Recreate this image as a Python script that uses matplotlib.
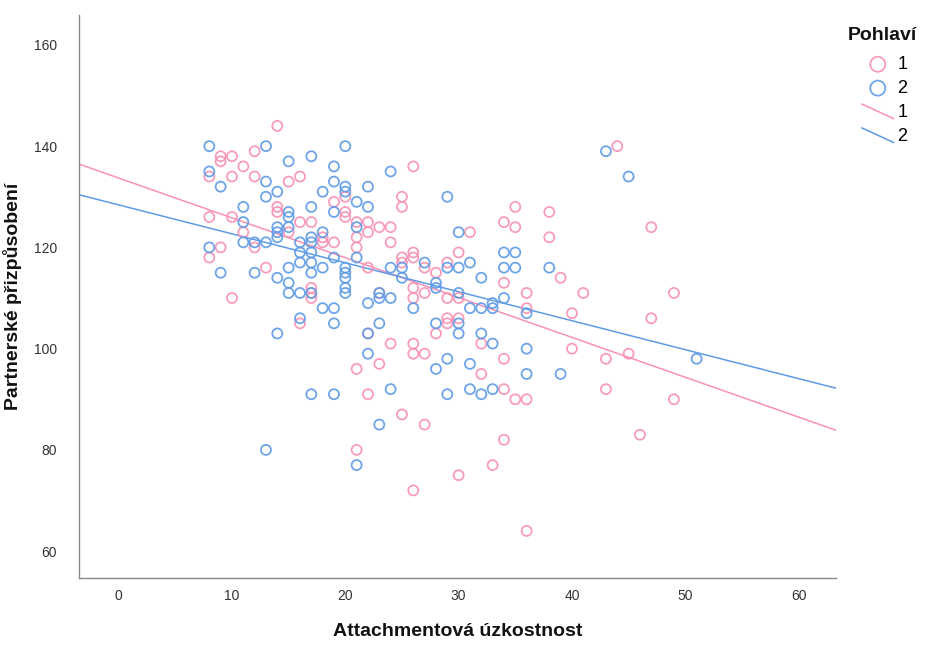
import numpy as np
import matplotlib
matplotlib.use('Agg')
import matplotlib.pyplot as plt
from matplotlib.lines import Line2D
from matplotlib.legend_handler import HandlerBase

plt.rcParams['font.family'] = ['Liberation Sans', 'DejaVu Sans']

# Pohlaví = 1
x1 = [8, 8, 8, 9, 9, 9, 10, 10, 10, 10, 11, 11, 12, 12, 12, 13, 14, 14, 14, 15, 15,
      16, 16, 16, 17, 17, 17, 17, 18, 18, 19, 19, 20, 20, 20, 21, 21, 21, 21, 21,
      22, 22, 22, 22, 22, 23, 23, 23, 24, 24, 24, 25, 25, 25, 25, 25,
      26, 26, 26, 26, 26, 26, 26, 26, 27, 27, 27, 27, 28, 28, 29, 29, 29, 29,
      30, 30, 30, 30, 31, 32, 32, 33, 34, 34, 34, 34, 34, 35, 35, 35,
      36, 36, 36, 36, 38, 38, 39, 40, 40, 41, 43, 43, 44, 45, 46, 47, 47, 49, 49]
y1 = [134, 126, 118, 138, 137, 120, 138, 134, 126, 110, 136, 123, 139, 134, 120, 116, 144, 128, 127, 133, 123,
      134, 125, 105, 125, 112, 111, 110, 122, 121, 129, 121, 130, 127, 126, 125, 122, 120, 96, 80,
      125, 123, 116, 103, 91, 124, 111, 97, 124, 121, 101, 130, 128, 118, 117, 87,
      136, 119, 118, 112, 110, 101, 99, 72, 116, 111, 99, 85, 115, 103, 117, 110, 106, 105,
      119, 110, 106, 75, 123, 101, 95, 77, 125, 113, 98, 92, 82, 128, 124, 90,
      111, 108, 90, 64, 127, 122, 114, 107, 100, 111, 98, 92, 140, 99, 83, 124, 106, 111, 90]

# Pohlaví = 2
x2 = [8, 8, 8, 9, 9, 11, 11, 11, 12, 12, 13, 13, 13, 13, 13,
      14, 14, 14, 14, 14, 14, 15, 15, 15, 15, 15, 15, 15, 16, 16, 16, 16, 16,
      17, 17, 17, 17, 17, 17, 17, 17, 17, 18, 18, 18, 18,
      19, 19, 19, 19, 19, 19, 19, 20, 20, 20, 20, 20, 20, 20, 20,
      21, 21, 21, 21, 22, 22, 22, 22, 22, 23, 23, 23, 23, 24, 24, 24, 24,
      25, 25, 26, 27, 28, 28, 28, 28, 29, 29, 29, 29, 30, 30, 30, 30, 30,
      31, 31, 31, 31, 32, 32, 32, 32, 33, 33, 33, 33, 34, 34, 34, 35, 35,
      36, 36, 36, 38, 39, 43, 45, 51]
y2 = [140, 135, 120, 132, 115, 128, 125, 121, 121, 115, 140, 133, 130, 121, 80,
      131, 124, 123, 122, 114, 103, 137, 127, 126, 124, 116, 113, 111, 121, 119, 117, 111, 106,
      138, 128, 122, 121, 119, 117, 115, 111, 91, 131, 123, 116, 108,
      136, 133, 127, 118, 108, 105, 91, 140, 132, 131, 116, 115, 114, 112, 111,
      129, 124, 118, 77, 132, 128, 109, 103, 99, 111, 110, 105, 85, 135, 116, 110, 92,
      116, 114, 108, 117, 113, 112, 105, 96, 130, 116, 98, 91, 123, 116, 111, 105, 103,
      117, 108, 97, 92, 114, 108, 103, 91, 109, 108, 101, 92, 119, 116, 110, 119, 116,
      107, 100, 95, 116, 95, 139, 134, 98]

# fitted lines (slope, intercept) as shown in the chart
fit1 = [-0.787, 133.7]
fit2 = [-0.572, 128.4]

groups = ['1', '2']
colors = ['#F891B5', '#5E9BE6']


class DiagHandler(HandlerBase):
    def create_artists(self, legend, orig, xd, yd, width, height, fontsize, trans):
        ln = Line2D([xd, xd + width], [yd + height * 1.0, yd - height * 0.15],
                    color=orig.get_color(), lw=orig.get_linewidth(), transform=trans)
        return [ln]


fig = plt.figure(figsize=(9.26, 6.45), dpi=100)
ax = fig.add_axes([0.0853, 0.1039, 0.8175, 0.8728])

xlim = (-3.5, 63.3)
ylim = (54.7, 165.9)

pts = []
for xs, ys, c, g in zip([x1, x2], [y1, y2], colors, groups):
    h = ax.scatter(xs, ys, s=52, facecolors='none', edgecolors=c, linewidths=1.3,
                   alpha=0.9, label=g, zorder=3)
    pts.append(h)

fits = []
for (k, q), c, g in zip([fit1, fit2], colors, groups):
    xx = np.array(xlim)
    ln, = ax.plot(xx, k * xx + q, color=c, lw=1.1, label=g, zorder=2)
    fits.append(ln)

ax.set_xlim(*xlim)
ax.set_ylim(*ylim)
ax.set_xticks(range(0, 61, 10))
ax.set_yticks(range(60, 161, 20))
ax.tick_params(length=0, labelsize=10, colors='#333333')
ax.tick_params(axis='x', pad=8)
ax.tick_params(axis='y', pad=16)
for s in ['top', 'right']:
    ax.spines[s].set_visible(False)
for s in ['left', 'bottom']:
    ax.spines[s].set_color('#888888')
    ax.spines[s].set_linewidth(1.0)

ax.set_xlabel('Attachmentová úzkostnost', fontsize=14, fontweight='bold',
              color='#111111', labelpad=14)
ax.set_ylabel('Partnerské přizpůsobení', fontsize=14, fontweight='bold',
              color='#111111', labelpad=8)

fig.text(0.916, 1 - 35 / 645, 'Pohlaví', fontsize=14, fontweight='bold',
         color='#111111', va='center', ha='left')
leg = fig.legend(pts + fits, groups + groups,
                 loc='upper left', bbox_to_anchor=(862 / 926, 1 - 56 / 645), frameon=False,
                 fontsize=13, borderpad=0, borderaxespad=0,
                 handler_map={fits[0]: DiagHandler(), fits[1]: DiagHandler()},
                 handlelength=1.75, handletextpad=0.2, labelspacing=0.38,
                 markerscale=1.5)

fig.savefig('out.png', dpi=100)
